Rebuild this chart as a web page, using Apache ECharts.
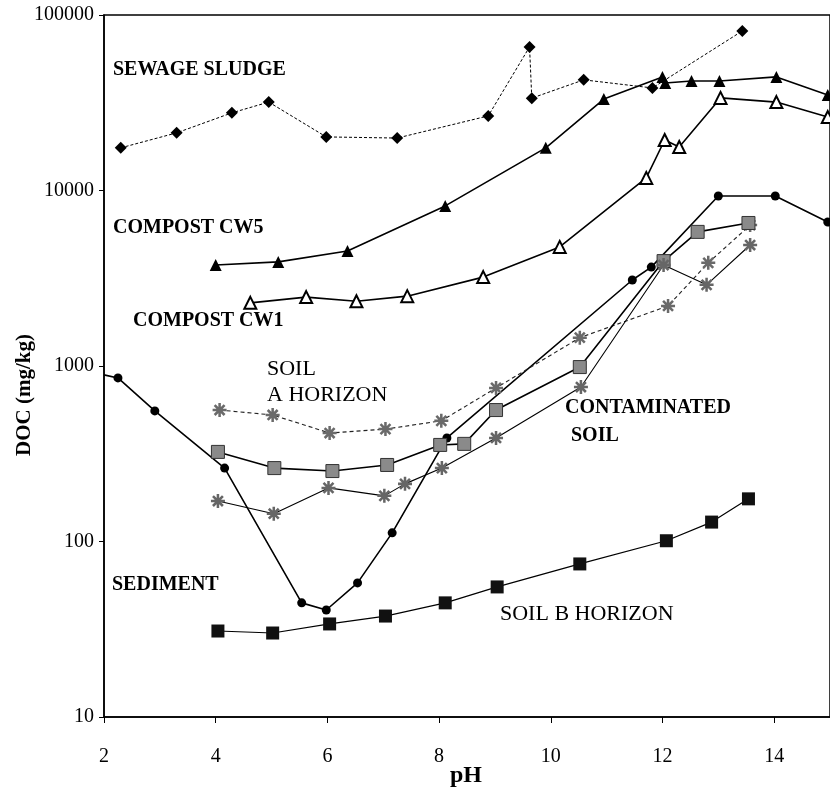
<!DOCTYPE html>
<html>
<head>
<meta charset="utf-8">
<script src="https://cdn.jsdelivr.net/npm/echarts@6/dist/echarts.min.js"></script>
<style>
  html, body { margin: 0; padding: 0; background: #fff; }
  #chart { width: 830px; height: 800px; }
</style>
</head>
<body>
<div id="chart"></div>
<script>
// Dissolved organic carbon (mg/kg) released at each pH, per material
const sludgePH  = [2.30, 3.30, 4.29, 4.95, 5.98, 7.25, 8.88, 9.62, 9.66, 10.59, 11.82, 13.43];
const sludgeDOC = [17500, 21300, 27700, 31900, 20200, 19900, 26600, 65800, 33600, 42700, 38400, 81100];

const cw5PH  = [4.0, 5.12, 6.36, 8.11, 9.91, 10.95, 12.0, 12.05, 12.52, 13.02, 14.04, 14.96];
const cw5DOC = [3760, 3920, 4520, 8170, 17500, 33200, 44400, 41000, 42100, 42100, 44400, 35000];

const cw1PH  = [4.62, 5.62, 6.52, 7.43, 8.79, 10.16, 11.71, 12.04, 12.30, 13.04, 14.04, 14.96];
const cw1DOC = [2290, 2470, 2340, 2500, 3210, 4770, 11800, 19400, 17700, 33700, 31900, 26200];

// first sediment reading sits on the pH 2 axis line
const sedimentPH  = [2.0, 2.25, 2.91, 4.16, 5.54, 5.98, 6.54, 7.16, 8.14, 11.46, 11.80, 13.0, 14.02, 14.96];
const sedimentDOC = [890, 855, 555, 262, 44.7, 40.7, 58.1, 112, 389, 3090, 3660, 9300, 9300, 6610];

const soilBPH  = [4.04, 5.02, 6.04, 7.04, 8.11, 9.04, 10.52, 12.07, 12.88, 13.54];
const soilBDOC = [30.9, 30.1, 33.9, 37.6, 44.7, 55.1, 74.5, 101, 129, 175];

const soilAPH  = [4.07, 5.02, 6.04, 7.04, 8.04, 9.02, 10.52, 12.1, 12.82, 13.57];
const soilADOC = [561, 526, 415, 437, 487, 750, 1450, 2200, 3870, 6350];

const contamSqPH  = [4.04, 5.05, 6.09, 7.07, 8.02, 8.45, 9.02, 10.52, 12.02, 12.63, 13.54];
const contamSqDOC = [324, 262, 252, 273, 355, 360, 561, 986, 3960, 5810, 6530];

const contamStPH  = [4.04, 5.04, 6.02, 7.02, 7.39, 8.05, 9.02, 10.54, 12.02, 12.79, 13.57];
const contamStDOC = [170, 144, 202, 182, 213, 262, 389, 759, 3760, 2900, 4890];

// Axis ticks
const xTicks = { min: 2, max: 15, step: 2 };
const yTicks = { min: 10, max: 100000 };

const pairs = (xs, ys) => xs.map((x, i) => [x, ys[i]]);

const SERIF = '"Liberation Serif", "DejaVu Serif", serif';
const asterisk = 'path://M-0.9,-5L0.9,-5L0.9,5L-0.9,5Z M-5,-0.9L5,-0.9L5,0.9L-5,0.9Z ' +
  'M-4.2,-2.9L-2.9,-4.2L4.2,2.9L2.9,4.2Z M2.9,-4.2L4.2,-2.9L-2.9,4.2L-4.2,2.9Z';

function line(name, data, symbol, size, color, lineStyle, itemStyle) {
  return {
    name, type: 'line', data,
    symbol, symbolSize: size, showSymbol: true,
    lineStyle: Object.assign({ color: '#000', width: 1.4 }, lineStyle),
    itemStyle: Object.assign({ color: color }, itemStyle || {}),
    emphasis: { disabled: true }, z: 3
  };
}

// the sediment curve enters from the axis line without a marker there
const sedimentData = pairs(sedimentPH, sedimentDOC).map((p, i) =>
  i === 0 ? { value: p, symbol: 'none' } : p);

const chart = echarts.init(document.getElementById('chart'), null, { renderer: 'canvas' });

const labels = [
  { t: 'SEWAGE SLUDGE', x: 113, y: 70, bold: true },
  { t: 'COMPOST CW5', x: 113, y: 228, bold: true },
  { t: 'COMPOST CW1', x: 133, y: 321, bold: true },
  { t: 'SOIL', x: 267, y: 369, bold: false },
  { t: 'A HORIZON', x: 267, y: 395, bold: false },
  { t: 'CONTAMINATED', x: 565, y: 408, bold: true },
  { t: 'SOIL', x: 571, y: 436, bold: true },
  { t: 'SEDIMENT', x: 112, y: 585, bold: true },
  { t: 'SOIL B HORIZON', x: 500, y: 614, bold: false }
];

chart.setOption({
  animation: false,
  backgroundColor: '#fff',
  grid: { left: 104, top: 15, width: 728, height: 702, show: true, borderColor: '#000', borderWidth: 1.5, backgroundColor: 'transparent' },
  xAxis: {
    type: 'value', min: xTicks.min, max: xTicks.max, interval: xTicks.step,
    axisLine: { show: true, lineStyle: { color: '#000', width: 1.5 } },
    axisTick: { show: true, length: 6, lineStyle: { color: '#000' } },
    axisLabel: { color: '#000', fontFamily: SERIF, fontSize: 20, margin: 30, showMaxLabel: false },
    splitLine: { show: false }
  },
  yAxis: {
    type: 'log', logBase: 10, min: yTicks.min, max: yTicks.max,
    axisLine: { show: true, lineStyle: { color: '#000', width: 1.5 } },
    axisTick: { show: true, length: 5, lineStyle: { color: '#000' } },
    axisLabel: { color: '#000', fontFamily: SERIF, fontSize: 20, margin: 10, formatter: v => String(Math.round(v)) },
    splitLine: { show: false }, minorTick: { show: false }
  },
  graphic: labels.map(l => ({
    type: 'text', x: l.x, y: l.y, silent: true,
    style: { text: l.t, fill: '#000', font: (l.bold ? 'bold 20px ' : '22px ') + SERIF, verticalAlign: 'middle', textAlign: 'left' }
  })).concat([
    { type: 'text', x: 466, y: 776, silent: true,
      style: { text: 'pH', fill: '#000', font: 'bold 24px ' + SERIF, textAlign: 'center', verticalAlign: 'middle' } },
    { type: 'text', x: 25, y: 395, rotation: Math.PI / 2, silent: true,
      style: { text: 'DOC (mg/kg)', fill: '#000', font: 'bold 21px ' + SERIF, textAlign: 'center', verticalAlign: 'middle' } }
  ]),
  series: [
    line('Sewage sludge', pairs(sludgePH, sludgeDOC), 'diamond', 12, '#000', { width: 1, type: [3, 2] }),
    line('Compost CW5', pairs(cw5PH, cw5DOC), 'triangle', 12, '#000', { width: 1.6 }),
    line('Compost CW1', pairs(cw1PH, cw1DOC), 'triangle', 12, '#fff', { width: 1.6 }, { borderColor: '#000', borderWidth: 2 }),
    line('Sediment', sedimentData, 'circle', 9, '#000', { width: 1.6 }),
    line('Soil B horizon', pairs(soilBPH, soilBDOC), 'rect', 13, '#111', { width: 1.2 }),
    line('Soil A horizon', pairs(soilAPH, soilADOC), asterisk, 14, '#6a6a6a', { width: 1.1, type: [4, 3], color: '#222' }),
    line('Contaminated soil', pairs(contamSqPH, contamSqDOC), 'rect', 13, '#8a8a8a', { width: 1.6 }, { borderColor: '#333', borderWidth: 1 }),
    line('Contaminated soil (2)', pairs(contamStPH, contamStDOC), asterisk, 14, '#666', { width: 1.1 })
  ]
});
</script>
</body>
</html>
